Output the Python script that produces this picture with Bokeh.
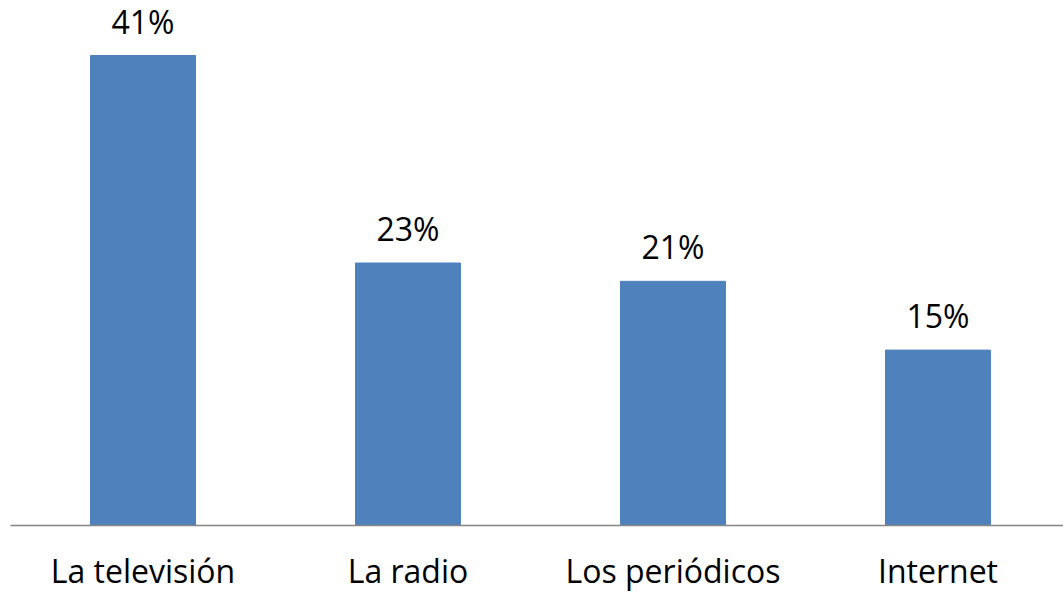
from bokeh.plotting import figure
from bokeh.models import ColumnDataSource, Range1d, FixedTicker, LabelSet
from bokeh.core.properties import value
from bokeh.embed import file_html
from bokeh.resources import INLINE

categories = ["La televisión", "La radio", "Los periódicos", "Internet"]
values = [41, 22.9, 21.3, 15.3]
value_labels = ["41%", "23%", "21%", "15%"]

xs = list(range(len(categories)))
src = ColumnDataSource(dict(x=xs, v=values, lab=value_labels))

p = figure(width=1063, height=595, output_backend="svg", toolbar_location=None,
           x_range=Range1d(-0.5, 3.4736), y_range=Range1d(0, 45.8),
           min_border_left=10, min_border_right=0, min_border_top=0, min_border_bottom=70)
p.outline_line_color = None
p.xgrid.visible = False
p.ygrid.visible = False
p.yaxis.visible = False
p.background_fill_color = "white"

p.vbar(x="x", top="v", width=0.396, bottom=0, source=src,
       fill_color="#4F81BD", line_color="#4F81BD")

labels = LabelSet(x="x", y="v", text="lab", source=src, text_align="center",
                  text_baseline="bottom", y_offset=13, text_font=value("Open Sans"),
                  text_font_size="32px", text_color="black")
p.add_layout(labels)

ax = p.xaxis[0]
ax.ticker = FixedTicker(ticks=xs)
ax.major_label_overrides = {i: c for i, c in enumerate(categories)}
ax.major_tick_line_color = None
ax.minor_tick_line_color = None
ax.axis_line_color = "#868686"
ax.axis_line_width = 1.5
ax.major_label_text_font = "Open Sans"
ax.major_label_text_font_size = "32px"
ax.major_label_text_color = "black"
ax.major_label_standoff = 17

open("out.html", "w").write(file_html(p, INLINE))
